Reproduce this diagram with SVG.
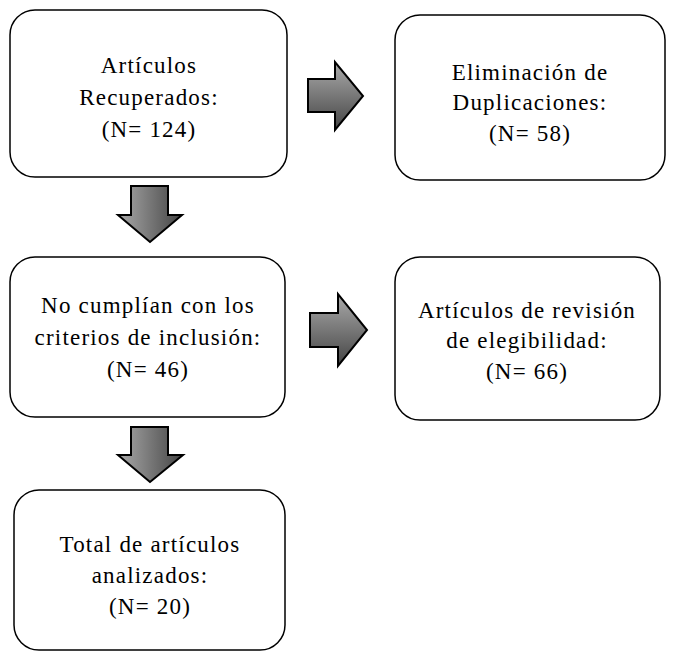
<svg xmlns="http://www.w3.org/2000/svg" width="674" height="656" viewBox="0 0 674 656">
<defs>
<linearGradient id="gh" x1="0" y1="0" x2="0" y2="1"><stop offset="0" stop-color="#aaa"/><stop offset="1" stop-color="#444"/></linearGradient>
<linearGradient id="gv" x1="0" y1="0" x2="1" y2="0"><stop offset="0" stop-color="#aaa"/><stop offset="1" stop-color="#444"/></linearGradient>
<style>
.box{fill:#fff;stroke:#000;stroke-width:1.5}
.t{font-family:"Liberation Serif",serif;font-size:23px;letter-spacing:1.2px;text-anchor:middle;fill:#000}
.ar{stroke:#000;stroke-width:2;stroke-linejoin:miter}
</style>
</defs>
<rect width="674" height="656" fill="#fff"/>
<g id="n1"><rect class="box" x="10" y="10" width="277" height="167" rx="25"/><text class="t" x="149" y="73">Artículos</text><text class="t" x="149" y="105">Recuperados:</text><text class="t" x="149" y="137">(N= 124)</text></g>
<g id="n2"><rect class="box" x="395" y="15" width="270" height="165" rx="25"/><text class="t" x="530" y="80">Eliminación de</text><text class="t" x="530" y="110">Duplicaciones:</text><text class="t" x="530" y="141">(N= 58)</text></g>
<g id="n3"><rect class="box" x="10" y="257" width="275" height="160" rx="25"/><text class="t" x="148" y="313">No cumplían con los</text><text class="t" x="148" y="345">criterios de inclusión:</text><text class="t" x="148" y="377">(N= 46)</text></g>
<g id="n4"><rect class="box" x="395" y="257" width="265" height="163" rx="25"/><text class="t" x="527" y="318">Artículos de revisión</text><text class="t" x="527" y="348">de elegibilidad:</text><text class="t" x="527" y="379">(N= 66)</text></g>
<g id="n5"><rect class="box" x="14" y="490" width="271" height="160" rx="25"/><text class="t" x="150" y="552">Total de artículos</text><text class="t" x="150" y="583">analizados:</text><text class="t" x="150" y="614">(N= 20)</text></g>
<g id="connectors">
<polygon class="ar" fill="url(#gh)" points="308,79 335,79 335,62 363,96 335,130 335,112 308,112"/>
<polygon class="ar" fill="url(#gh)" points="310,313 338,313 338,294 367,330 338,366 338,347 310,347"/>
<polygon class="ar" fill="url(#gv)" points="131,186 168,186 168,215 182,215 150,242 118,215 131,215"/>
<polygon class="ar" fill="url(#gv)" points="131,427 168,427 168,455 183,455 150,482 118,455 131,455"/>
</g>
</svg>
